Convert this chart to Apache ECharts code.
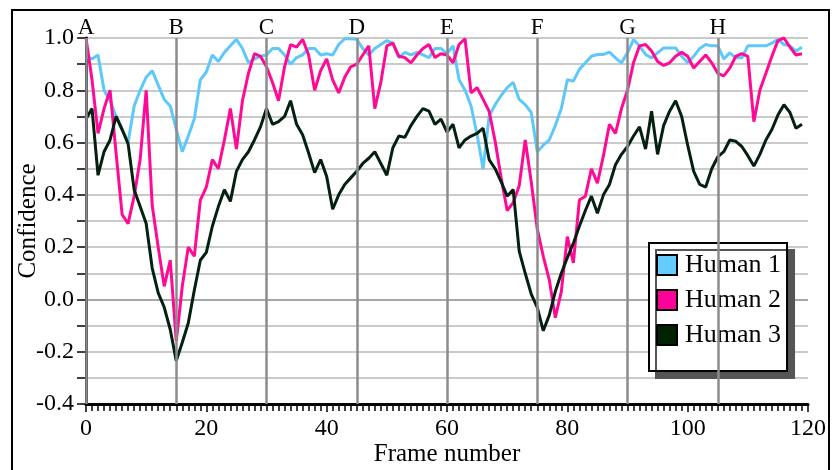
<!DOCTYPE html>
<html>
<head>
<meta charset="utf-8">
<title>Confidence</title>
<script src="https://cdn.jsdelivr.net/npm/echarts@6/dist/echarts.min.js"></script>
<style>
  html, body { margin: 0; padding: 0; background: #fff; }
  #chart { width: 832px; height: 470px; }
</style>
</head>
<body>
<div id="chart"></div>
<script>
// values per frame (frame number = array index)
const human1 = [
  0.93, 0.92, 0.935, 0.80, 0.76, 0.70, 0.65, 0.60, 0.74, 0.80,
  0.85, 0.875, 0.82, 0.765, 0.74, 0.65, 0.565, 0.625, 0.69, 0.84,
  0.87, 0.935, 0.91, 0.945, 0.97, 0.995, 0.96, 0.905, 0.92, 0.93,
  0.935, 0.96, 0.96, 0.935, 0.90, 0.925, 0.935, 0.96, 0.96, 0.935,
  0.94, 0.935, 0.975, 0.997, 0.997, 0.995, 0.96, 0.935, 0.96, 0.975,
  0.99, 0.98, 0.925, 0.945, 0.935, 0.945, 0.935, 0.925, 0.96, 0.96,
  0.94, 0.97, 0.84, 0.80, 0.74, 0.63, 0.50, 0.70, 0.745, 0.78,
  0.81, 0.83, 0.765, 0.745, 0.715, 0.565, 0.59, 0.61, 0.665, 0.73,
  0.84, 0.835, 0.88, 0.905, 0.93, 0.937, 0.937, 0.946, 0.924, 0.905,
  0.943, 0.994, 0.969, 0.937, 0.924, 0.943, 0.962, 0.962, 0.962, 0.93,
  0.905, 0.93, 0.96, 0.975, 0.97, 0.97, 0.92, 0.943, 0.924, 0.924,
  0.97, 0.97, 0.97, 0.97, 0.98, 0.995, 0.975, 0.97, 0.95, 0.965
];
const human2 = [
  1.0, 0.84, 0.635, 0.73, 0.80, 0.56, 0.325, 0.29, 0.395, 0.535,
  0.80, 0.36, 0.20, 0.05, 0.15, -0.16, 0.05, 0.20, 0.165, 0.38,
  0.43, 0.535, 0.50, 0.61, 0.73, 0.575, 0.76, 0.865, 0.94, 0.93,
  0.89, 0.83, 0.76, 0.89, 0.975, 0.965, 0.995, 0.935, 0.80, 0.875,
  0.92, 0.84, 0.79, 0.85, 0.89, 0.90, 0.935, 0.97, 0.73, 0.83,
  0.97, 0.98, 0.93, 0.925, 0.905, 0.935, 0.96, 0.975, 0.925, 0.94,
  0.935, 0.905, 0.975, 0.997, 0.79, 0.81, 0.765, 0.72, 0.605, 0.465,
  0.34, 0.37, 0.435, 0.61, 0.45, 0.27, 0.165, 0.075, -0.07, 0.03,
  0.24, 0.14, 0.38, 0.395, 0.50, 0.445, 0.55, 0.67, 0.635, 0.73,
  0.80, 0.905, 0.97, 0.975, 0.95, 0.91, 0.895, 0.905, 0.93, 0.945,
  0.93, 0.885, 0.91, 0.935, 0.905, 0.865, 0.855, 0.885, 0.93, 0.94,
  0.93, 0.68, 0.80, 0.865, 0.93, 0.99, 1.0, 0.965, 0.935, 0.94
];
const human3 = [
  0.69, 0.73, 0.475, 0.565, 0.61, 0.70, 0.65, 0.595, 0.42, 0.355,
  0.29, 0.12, 0.025, -0.03, -0.115, -0.235, -0.165, -0.09, 0.035, 0.15,
  0.18, 0.28, 0.355, 0.42, 0.375, 0.49, 0.535, 0.565, 0.61, 0.66,
  0.73, 0.67, 0.68, 0.70, 0.76, 0.67, 0.63, 0.56, 0.485, 0.535,
  0.47, 0.345, 0.40, 0.44, 0.465, 0.49, 0.52, 0.54, 0.565, 0.52,
  0.475, 0.58, 0.625, 0.62, 0.665, 0.70, 0.73, 0.72, 0.67, 0.69,
  0.64, 0.67, 0.58, 0.61, 0.625, 0.635, 0.655, 0.535, 0.50, 0.45,
  0.395, 0.42, 0.185, 0.10, 0.02, -0.03, -0.12, -0.06, 0.03, 0.10,
  0.16, 0.215, 0.28, 0.34, 0.395, 0.33, 0.40, 0.44, 0.515, 0.555,
  0.585, 0.625, 0.66, 0.575, 0.72, 0.555, 0.665, 0.72, 0.76, 0.70,
  0.59, 0.49, 0.44, 0.43, 0.50, 0.545, 0.565, 0.61, 0.605, 0.585,
  0.55, 0.51, 0.555, 0.61, 0.65, 0.705, 0.745, 0.715, 0.655, 0.67
];
const seriesNames = ['Human 1', 'Human 2', 'Human 3'];
const lineColors = ['#5ec8fa', '#ff0a96', '#042010'];
const legendColors = ['#66ccff', '#ff0099', '#002200'];
const markerFrames = [0, 15, 30, 45, 60, 75, 90, 105];
const markerNames = ['A', 'B', 'C', 'D', 'E', 'F', 'G', 'H'];

const serif = '"Liberation Serif", "DejaVu Serif", serif';

const chart = echarts.init(document.getElementById('chart'));

// grid lines every 0.1, the zero line a bit darker
let gridColors = [];
for (let k = 0; k < 15; k++) gridColors.push(k === 4 ? '#8a8a8a' : '#b8b8b8');

let series = [{
  name: 'markers',
  type: 'line',
  data: [],
  silent: true,
  markLine: {
    silent: true,
    symbol: 'none',
    animation: false,
    lineStyle: { color: '#8c8c8c', width: 2.5, type: 'solid' },
    label: {
      show: true,
      position: 'end',
      formatter: '{b}',
      distance: -1,
      color: '#000',
      fontSize: 23,
      fontFamily: serif
    },
    data: markerFrames.map((f, i) => ({ xAxis: f, name: markerNames[i] }))
  }
}];
const allData = [human1, human2, human3];
allData.forEach((arr, s) => {
  series.push({
    name: seriesNames[s],
    type: 'line',
    showSymbol: false,
    symbol: 'none',
    data: arr.map((v, i) => [i, v]),
    color: legendColors[s],
    lineStyle: { color: lineColors[s], width: 3 },
    animation: false
  });
});

const option = {
  animation: false,
  backgroundColor: '#fff',
  graphic: [{
    type: 'rect',
    silent: true,
    shape: { x: 12, y: 10, width: 817, height: 480 },
    style: { fill: 'none', stroke: '#000', lineWidth: 2 }
  }],
  grid: { left: 86, top: 38, width: 722, height: 366, containLabel: false, outerBoundsMode: 'none' },
  legend: {
    data: seriesNames,
    orient: 'vertical',
    left: 649,
    top: 243,
    icon: 'rect',
    itemWidth: 20,
    itemHeight: 20,
    itemGap: 9,
    padding: [9, 6, 23, 7],
    backgroundColor: '#fff',
    borderColor: '#000',
    borderWidth: 2,
    shadowColor: '#555',
    shadowBlur: 0,
    shadowOffsetX: 7,
    shadowOffsetY: 7,
    itemStyle: { borderColor: '#000', borderWidth: 2 },
    textStyle: { fontSize: 26, fontFamily: serif, color: '#000', padding: [0, 0, 0, 3] }
  },
  xAxis: {
    type: 'value',
    min: 0,
    max: 120,
    interval: 20,
    name: 'Frame number',
    nameLocation: 'middle',
    nameGap: 38,
    nameMoveOverlap: false,
    nameTextStyle: { fontSize: 25, fontFamily: serif, color: '#000' },
    axisLine: { onZero: false, lineStyle: { color: '#000', width: 3 } },
    axisTick: { length: 8, lineStyle: { color: '#000', width: 1.5 } },
    minorTick: { show: true, splitNumber: 20, length: 7, lineStyle: { color: '#000', width: 1.5 } },
    splitLine: { show: false },
    axisLabel: { fontSize: 24, fontFamily: serif, color: '#000', margin: 13 }
  },
  yAxis: {
    type: 'value',
    min: -0.4,
    max: 1.0,
    interval: 0.1,
    name: 'Confidence',
    nameLocation: 'middle',
    nameGap: 45,
    nameMoveOverlap: false,
    nameTextStyle: { fontSize: 25, fontFamily: serif, color: '#000' },
    axisLine: { onZero: false, lineStyle: { color: '#000', width: 3 } },
    axisTick: { length: 9, lineStyle: { color: '#000', width: 1.5 } },
    splitLine: { show: true, lineStyle: { color: gridColors, width: 1.5 } },
    axisLabel: {
      fontSize: 24,
      fontFamily: serif,
      color: '#000',
      margin: 12,
      formatter: function (v) {
        return Math.round(v * 10) % 2 === 0 ? v.toFixed(1) : '';
      }
    }
  },
  series: series
};
chart.setOption(option);
</script>
</body>
</html>
